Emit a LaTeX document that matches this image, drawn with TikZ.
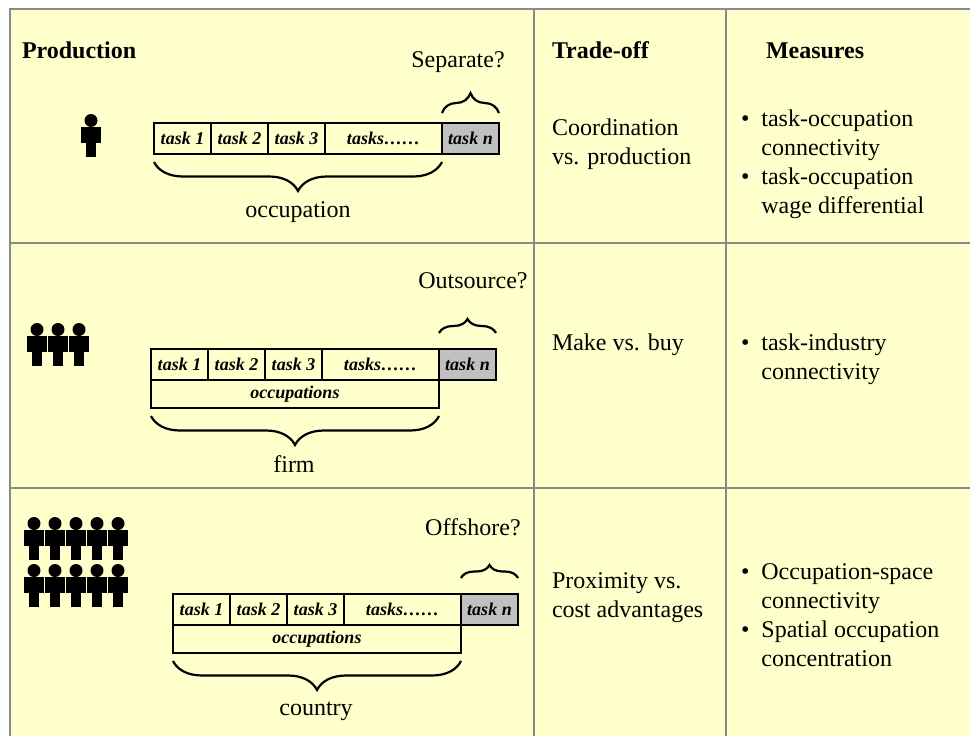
\documentclass[tikz,border=0pt]{standalone}
\usepackage{fontspec}
\setmainfont{Liberation Serif}
\usetikzlibrary{positioning, decorations.pathreplacing}
\definecolor{paper}{HTML}{FFFFCC}
\definecolor{rulegray}{HTML}{8A8A8A}
\definecolor{taskgray}{HTML}{C0C0C0}
\newcommand{\bigtext}{\fontsize{24}{29}\selectfont}
\newcommand{\celltext}{\fontsize{18}{20}\selectfont\bfseries\itshape}

\begin{document}
\begin{tikzpicture}[x=1pt,y=1pt,
	every node/.style={inner sep=0pt,outer sep=0pt,font=\bigtext},
	taskcell/.style={draw,line width=1.1pt,minimum height=31pt,minimum width=57pt,font=\celltext},
	dotscell/.style={taskcell,minimum width=117pt},
	lastcell/.style={taskcell,fill=taskgray},
	occcell/.style={taskcell,minimum width=288pt,minimum height=28pt,anchor=north west},
	curly/.style={decorate,decoration={brace,amplitude=#1},line width=2.2pt},
	lbl/.style={anchor=base},
	colhead/.style={anchor=base west,font=\bigtext\bfseries},
	celltxt/.style={anchor=base west},
	rule/.style={draw=rulegray,line width=2.2pt},
	person/.pic={
		\fill (0,-6.5) circle (6.5pt);
		\fill (-5,-12.5) rectangle (5,-30);
		\fill (-10,-13) rectangle (-5.3,-28.5);
		\fill (5.3,-13) rectangle (10,-28.5);
		\fill (-5,-30) rectangle (-0.4,-43);
		\fill (0.4,-30) rectangle (5,-43);
	}]
	\useasboundingbox (0,0) rectangle (970,-736);
	\fill[white] (0,0) rectangle (970,-736);
	\fill[paper] (10,-9) rectangle (970,-736);

	% table rules
	\draw[rule] (10,-736) -- (10,-9) -- (970,-9);
	\draw[rule] (10,-243) -- (970,-243);
	\draw[rule] (10,-488) -- (970,-488);
	\draw[rule] (534,-9) -- (534,-736);
	\draw[rule] (726,-9) -- (726,-736);

	% headers
	\node[colhead] (prod) at (22,-58) {Production};
	\node[colhead] (trade) at (552,-58) {Trade-off};
	\node[colhead] (meas) at (766,-58) {Measures};

	% row 1: occupation
	\pic at (91,-114) {person};
	\node[taskcell] (ta1) at (182.5,-138.5) {task 1};
	\node[taskcell,right=0pt of ta1] (ta2) {task 2};
	\node[taskcell,right=0pt of ta2] (ta3) {task 3};
	\node[dotscell,right=0pt of ta3] (ta4) {tasks……};
	\node[lastcell,right=0pt of ta4] (tan) {task n};
	\draw[curly=29pt] ([yshift=-8pt]ta4.south east) -- ([yshift=-8pt]ta1.south west);
	\draw[curly=20pt] ([yshift=10pt]tan.north west) -- ([yshift=10pt]tan.north east);
	\node[lbl] (sep) at (458,-67) {Separate?};
	\node[lbl] (occa) at (298,-217) {occupation};
	\node[celltxt] (tra) at (552,-135) {\begin{tabular}[t]{@{}l@{}}Coordination\\vs. production\end{tabular}};
	\node[celltxt] (mea) at (741,-126) {\begin{tabular}[t]{@{}l@{\hspace{12pt}}l@{}}\textbullet & task-occupation\\ & connectivity\\ \textbullet & task-occupation\\ & wage differential\end{tabular}};

	% row 2: firm
	\pic at (37,-323) {person};
	\pic at (58,-323) {person};
	\pic at (79,-323) {person};
	\node[taskcell] (tb1) at (179.5,-364.5) {task 1};
	\node[taskcell,right=0pt of tb1] (tb2) {task 2};
	\node[taskcell,right=0pt of tb2] (tb3) {task 3};
	\node[dotscell,right=0pt of tb3] (tb4) {tasks……};
	\node[lastcell,right=0pt of tb4] (tbn) {task n};
	\node[occcell] (ob) at (tb1.south west) {occupations};
	\draw[curly=29pt] ([yshift=-8pt]ob.south east) -- ([yshift=-8pt]ob.south west);
	\draw[curly=14pt] ([yshift=16pt]tbn.north west) -- ([yshift=16pt]tbn.north east);
	\node[lbl] (outs) at (473,-288) {Outsource?};
	\node[lbl] (firm) at (294,-472) {firm};
	\node[celltxt] (trb) at (552,-350) {Make vs. buy};
	\node[celltxt] (meb) at (741,-350) {\begin{tabular}[t]{@{}l@{\hspace{12pt}}l@{}}\textbullet & task-industry\\ & connectivity\end{tabular}};

	% row 3: country
	\pic at (34,-517) {person};
	\pic at (55,-517) {person};
	\pic at (76,-517) {person};
	\pic at (97,-517) {person};
	\pic at (118,-517) {person};
	\pic at (34,-564) {person};
	\pic at (55,-564) {person};
	\pic at (76,-564) {person};
	\pic at (97,-564) {person};
	\pic at (118,-564) {person};
	\node[taskcell] (tc1) at (201.5,-609.5) {task 1};
	\node[taskcell,right=0pt of tc1] (tc2) {task 2};
	\node[taskcell,right=0pt of tc2] (tc3) {task 3};
	\node[dotscell,right=0pt of tc3] (tc4) {tasks……};
	\node[lastcell,right=0pt of tc4] (tcn) {task n};
	\node[occcell] (oc) at (tc1.south west) {occupations};
	\draw[curly=29pt] ([yshift=-8pt]oc.south east) -- ([yshift=-8pt]oc.south west);
	\draw[curly=13pt] ([yshift=16pt]tcn.north west) -- ([yshift=16pt]tcn.north east);
	\node[lbl] (offs) at (473,-535) {Offshore?};
	\node[lbl] (ctry) at (316,-715) {country};
	\node[celltxt] (trc) at (552,-588) {\begin{tabular}[t]{@{}l@{}}Proximity vs.\\cost advantages\end{tabular}};
	\node[celltxt] (mec) at (741,-579) {\begin{tabular}[t]{@{}l@{\hspace{12pt}}l@{}}\textbullet & Occupation-space\\ & connectivity\\ \textbullet & Spatial occupation\\ & concentration\end{tabular}};
\end{tikzpicture}
\end{document}
